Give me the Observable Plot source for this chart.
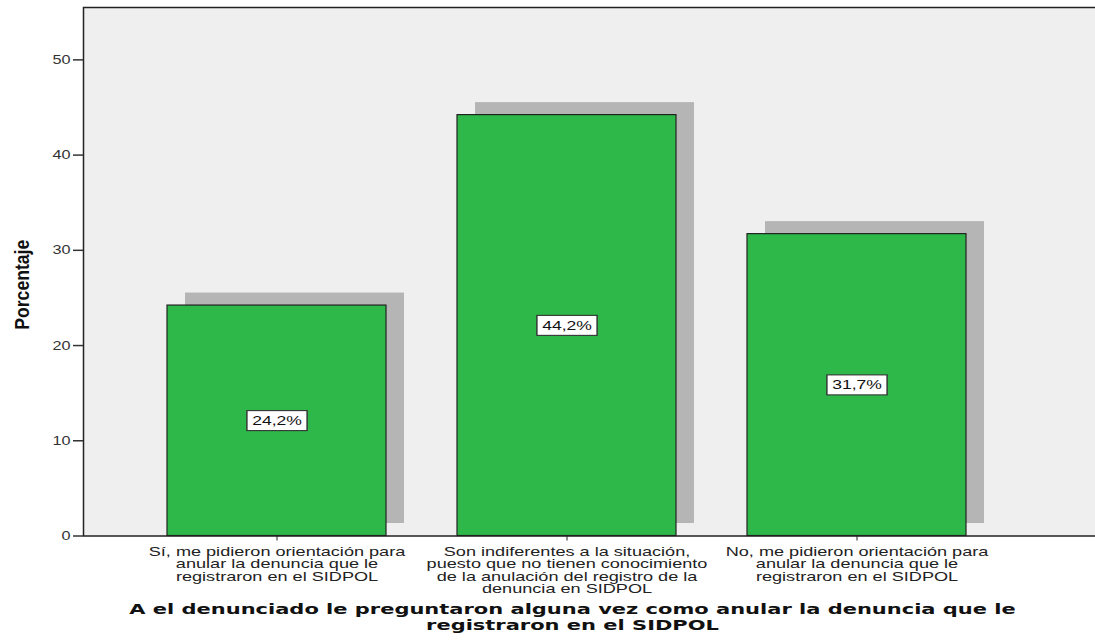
<!DOCTYPE html>
<html><head><meta charset="utf-8">
<script src="https://cdn.jsdelivr.net/npm/d3@7"></script>
<script src="https://cdn.jsdelivr.net/npm/@observablehq/plot@0.6"></script>
<style>
body{margin:0;overflow:hidden;background:#fff}
</style>
</head><body><div id="chart"></div>
<script>
const categories = [
  "Sí, me pidieron orientación para\nanular la denuncia que le\nregistraron en el SIDPOL",
  "Son indiferentes a la situación,\npuesto que no tienen conocimiento\nde la anulación del registro de la\ndenuncia en SIDPOL",
  "No, me pidieron orientación para\nanular la denuncia que le\nregistraron en el SIDPOL"
];
const values = [24.2, 44.2, 31.7];
const yTicks = [0, 10, 20, 30, 40, 50];
const yLabel = "Porcentaje";
const xTitle = "A el denunciado le preguntaron alguna vez como anular la denuncia que le\nregistraron en el SIDPOL";

const data = categories.map((c, i) => ({cat: c, value: values[i]}));
const fmt = v => v.toFixed(1).replace(".", ",") + "%";

const chart = Plot.plot({
  width: 1095, height: 644,
  marginLeft: 83, marginRight: -2, marginTop: 7, marginBottom: 108.5,
  style: {fontFamily: "'Liberation Sans', Arial, sans-serif", background: "#fff"},
  x: {domain: categories, paddingInner: 0.2455, paddingOuter: 0.3695, align: 0.3916, label: null},
  y: {domain: [0, 55.5], label: null},
  marks: [
    Plot.frame({fill: "#efefef"}),
    Plot.barY(data, {x: "cat", y: "value", fill: "#b5b5b5", dx: 18, dy: -12.5}),
    Plot.barY(data, {x: "cat", y: "value", fill: "#2fb84a", stroke: "#222", strokeWidth: 1.2}),
    Plot.text(data, {x: "cat", y: d => d.value / 2, text: d => fmt(d.value), fontSize: 13.5, fill: "#111"}),
    Plot.frame({stroke: "#222", strokeWidth: 1.5}),
    Plot.axisY({ticks: yTicks, tickSize: 10, tickPadding: 3, fontSize: 12.5, color: "#333", label: null, strokeWidth: 1.5}),
    Plot.axisX({tickSize: 5, tickPadding: 6, fontSize: 12.5, lineHeight: 1.0, label: null, color: "#222"}),
    Plot.text([yLabel], {frameAnchor: "left", textAnchor: "middle", lineAnchor: "middle", rotate: -90, dx: -61, dy: 13,
      fontWeight: "bold", fontSize: 20, fill: "#111",
      fontFamily: "'Liberation Sans Narrow', 'Arial Narrow', 'Liberation Sans', sans-serif"}),
    Plot.text([xTitle], {frameAnchor: "bottom", textAnchor: "middle", lineAnchor: "top", dy: 67, dx: -18, fontWeight: "bold", fontSize: 14, lineHeight: 1.12,
      fill: "#111", fontFamily: "'DejaVu Sans', Verdana, sans-serif"})
  ]
});
document.getElementById("chart").appendChild(chart);

// horizontal stretch of texts, as in the reference rendering
function stretch(el, sx, sy = 1) {
  const t = el.getAttribute("transform");
  if (t) el.setAttribute("transform", t + ` scale(${sx},${sy})`);
  else {
    const x = +el.getAttribute("x") || 0, y = +el.getAttribute("y") || 0;
    el.setAttribute("transform", `translate(${x},${y}) scale(${sx},${sy}) translate(${-x},${-y})`);
  }
}
const catFlat = new Set(categories.map(c => c.replace(/\n/g, "")));
const titleFlat = xTitle.replace(/\n/g, "");
d3.select(chart).selectAll("text").each(function() {
  const s = this.textContent;
  if (catFlat.has(s)) stretch(this, 1.45);
  else if (s === titleFlat) stretch(this, 1.5);
  else if (/^\d+$/.test(s)) stretch(this, 1.3);
  else if (s === yLabel) stretch(this, 0.88);
  else if (/%$/.test(s)) {
    const b = this.getBBox();
    const padX = 4, padY = 2.5;
    const r = document.createElementNS("http://www.w3.org/2000/svg", "rect");
    const t = this.getAttribute("transform");
    if (t) r.setAttribute("transform", t);
    r.setAttribute("x", b.x - padX); r.setAttribute("y", b.y - padY);
    r.setAttribute("width", b.width + 2 * padX); r.setAttribute("height", b.height + 2 * padY);
    r.setAttribute("fill", "#fff"); r.setAttribute("stroke", "#333"); r.setAttribute("stroke-width", 1.1);
    this.parentNode.insertBefore(r, this);
    stretch(this, 1.3); stretch(r, 1.3);
  }
});
</script>
</body></html>
